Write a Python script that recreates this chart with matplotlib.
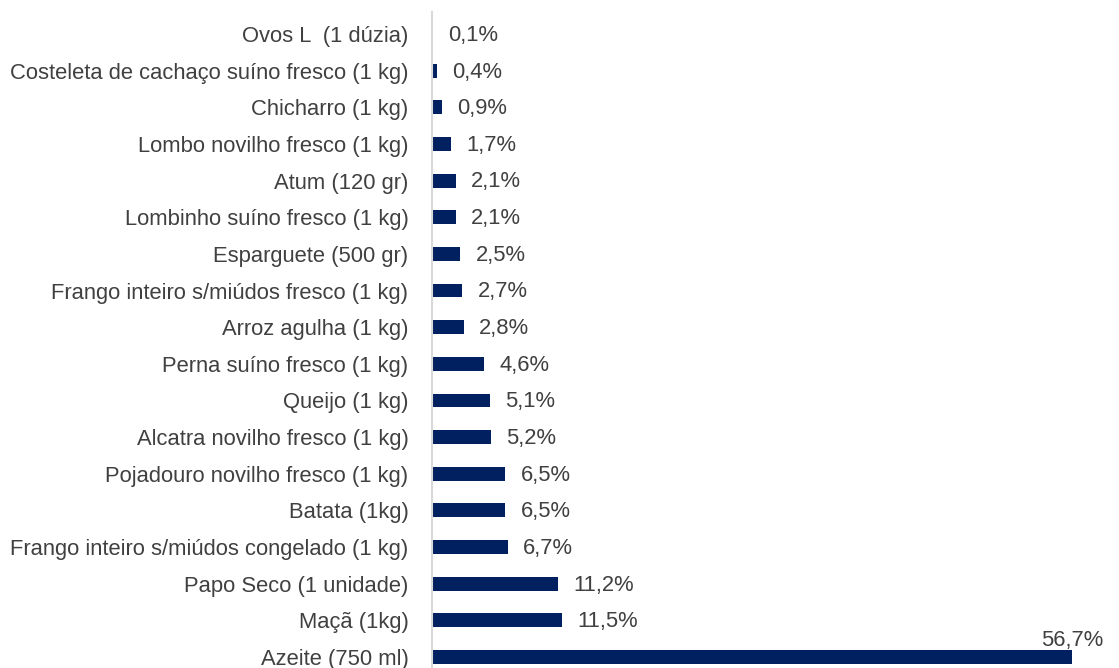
import matplotlib.pyplot as plt

# ---------- data ----------
produtos = [
    "Azeite (750 ml)",
    "Maçã (1kg)",
    "Papo Seco (1 unidade)",
    "Frango inteiro s/miúdos congelado (1 kg)",
    "Batata (1kg)",
    "Pojadouro novilho fresco (1 kg)",
    "Alcatra novilho fresco (1 kg)",
    "Queijo (1 kg)",
    "Perna suíno fresco (1 kg)",
    "Arroz agulha (1 kg)",
    "Frango inteiro s/miúdos fresco (1 kg)",
    "Esparguete (500 gr)",
    "Lombinho suíno fresco (1 kg)",
    "Atum (120 gr)",
    "Lombo novilho fresco (1 kg)",
    "Chicharro (1 kg)",
    "Costeleta de cachaço suíno fresco (1 kg)",
    "Ovos L  (1 dúzia)",
]
variacao = [56.7, 11.5, 11.2, 6.7, 6.5, 6.5, 5.2, 5.1, 4.6, 2.8, 2.7, 2.5, 2.1, 2.1, 1.7, 0.9, 0.4, 0.1]
# --------------------------

BAR_COLOR = "#002060"
TEXT_COLOR = "#404040"
FS = 15.8
plt.rcParams["font.family"] = ["Liberation Sans", "DejaVu Sans"]

fig = plt.figure(figsize=(11.19, 6.68), dpi=100)
ax = fig.add_axes([432 / 1119, 0.0, 660 / 1119, 1 - 12 / 668])

pos = list(range(len(produtos)))
ax.barh(pos, variacao, height=0.38, color=BAR_COLOR)

for i, v in enumerate(variacao):
    lbl = f"{v:.1f}%".replace(".", ",")
    if v > 50:
        ax.annotate(lbl, (v, i), xytext=(0, 4), textcoords="offset points",
                    ha="center", va="bottom", fontsize=FS, color=TEXT_COLOR)
    else:
        ax.annotate(lbl, (v, i), xytext=(11, -1), textcoords="offset points",
                    ha="left", va="center", fontsize=FS, color=TEXT_COLOR)

ax.set_yticks(pos)
ax.set_yticklabels(produtos, fontsize=FS, color=TEXT_COLOR)
ax.tick_params(axis="y", length=0, pad=17)
ax.set_xticks([])
ax.set_xlim(0, 655 / 11.2)
ax.set_ylim(-0.3, 17.6)

for s in ["top", "right", "bottom"]:
    ax.spines[s].set_visible(False)
ax.spines["left"].set_color("#d9d9d9")
ax.spines["left"].set_linewidth(1.5)

fig.savefig("out.png", dpi=100)
